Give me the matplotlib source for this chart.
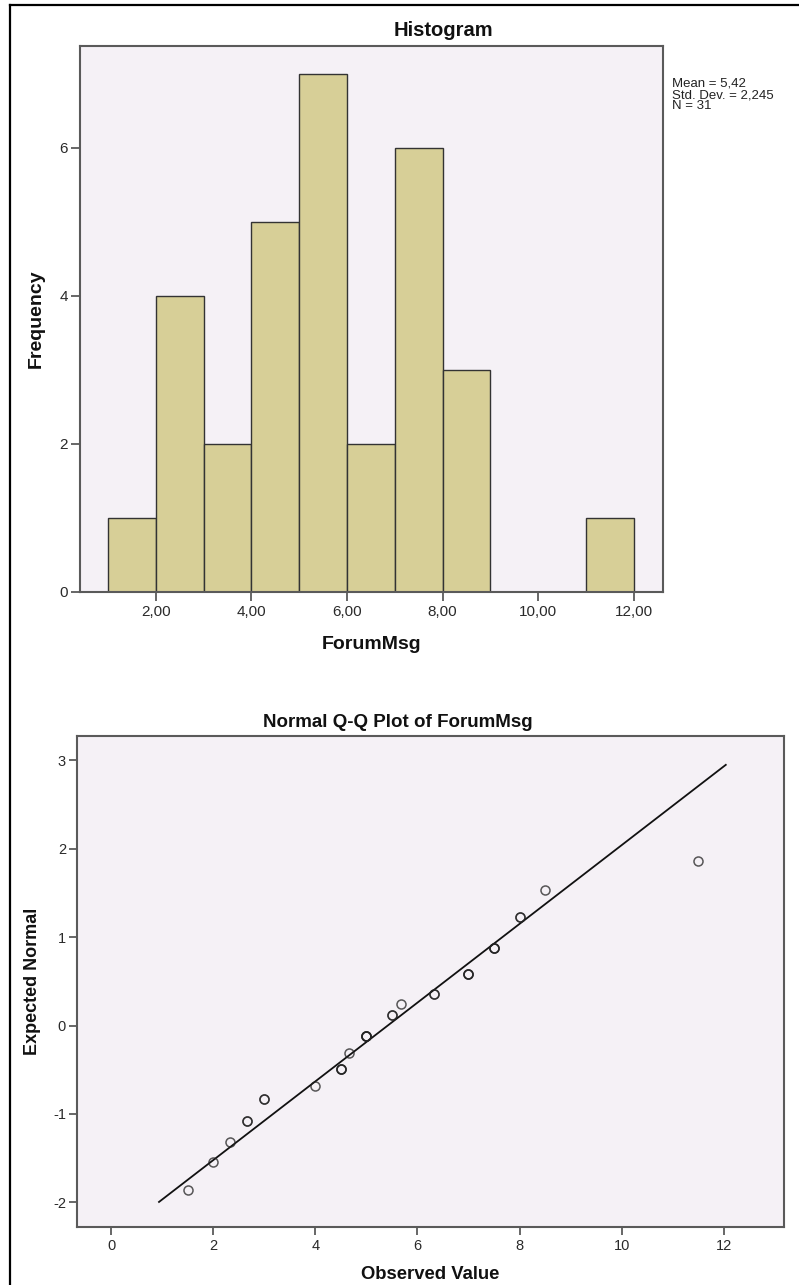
import matplotlib
matplotlib.use("Agg")
import matplotlib.pyplot as plt
from matplotlib.lines import Line2D
import numpy as np

plt.rcParams['font.family'] = ['Liberation Sans', 'DejaVu Sans']

# ---------------- data ----------------
bin_edges = [1, 2, 3, 4, 5, 6, 7, 8, 9, 10, 11, 12]
bin_counts = [1, 4, 2, 5, 7, 2, 6, 3, 0, 0, 1]
hist_xticks = [2, 4, 6, 8, 10, 12]
hist_xticklabels = ["2,00", "4,00", "6,00", "8,00", "10,00", "12,00"]
hist_yticks = [0, 2, 4, 6]
stats_lines = ["Mean = 5,42", "Std. Dev. = 2,245", "N = 31"]
mean_val = 5.42
sd_val = 2.245

qq_observed = [1.5, 2.0, 2.33, 2.67, 3.0, 4.0, 4.5, 4.67, 5.0, 5.5, 5.67,
               6.33, 7.0, 7.5, 8.0, 8.5, 11.5]
qq_expected = [-1.86, -1.54, -1.32, -1.08, -0.83, -0.68, -0.49, -0.31, -0.12,
               0.12, 0.24, 0.36, 0.58, 0.88, 1.23, 1.53, 1.86]
qq_ties = [1, 1, 1, 2, 2, 1, 3, 1, 4, 2, 1, 2, 3, 3, 2, 1, 1]
qq_line_x = [0.94, 12.04]
qq_xticks = [0, 2, 4, 6, 8, 10, 12]
qq_yticks = [-2, -1, 0, 1, 2, 3]

# ---------------- figure ----------------
W, H = 799, 1285
fig = plt.figure(figsize=(W / 100, H / 100), dpi=100)
fig.patch.set_facecolor("white")

def fx(px):
    return px / W

def fy(py):
    return 1 - py / H

bg = "#F5F1F6"
spine_c = "#5a5a5a"

# outer frame (left and top edges)
fig.add_artist(Line2D([fx(10), fx(10)], [fy(5), 0], transform=fig.transFigure,
                      color="black", lw=1.6))
fig.add_artist(Line2D([fx(10), 1], [fy(5), fy(5)], transform=fig.transFigure,
                      color="black", lw=1.6))

# ---------------- histogram ----------------
ax1 = fig.add_axes([fx(80), fy(592), fx(663) - fx(80), fy(46) - fy(592)])
ax1.set_facecolor(bg)
lefts = bin_edges[:-1]
widths = np.diff(bin_edges)
ax1.bar(lefts, bin_counts, width=widths, align="edge", color="#D7CF97",
        edgecolor="#333333", linewidth=1.0, zorder=2)
ax1.set_xlim(0.414, 12.61)
ax1.set_ylim(0, 7.378)
ax1.set_xticks(hist_xticks)
ax1.set_xticklabels(hist_xticklabels)
ax1.set_yticks(hist_yticks)
ax1.set_yticklabels([str(v) for v in hist_yticks])
for s in ax1.spines.values():
    s.set_color(spine_c)
    s.set_linewidth(1.5)
ax1.tick_params(axis="both", direction="out", length=6.5, width=1.3,
                color=spine_c, labelsize=11, labelcolor="#2a2a2a", pad=2)
ax1.tick_params(axis="x", pad=3)

fig.text(fx(443), fy(36), "Histogram", ha="center", va="baseline",
         fontsize=14.5, fontweight="bold", color="#111111")
fig.text(fx(36), fy(319), "Frequency", ha="center", va="center",
         rotation=90, fontsize=14, fontweight="bold", color="#111111")
fig.text(fx(372), fy(649), "ForumMsg", ha="center", va="baseline",
         fontsize=14, fontweight="bold", color="#111111")
for i, line in enumerate(stats_lines):
    fig.text(fx(672), fy(87 + 11 * i), line, ha="left", va="baseline",
             fontsize=9.5, color="#222222")

# ---------------- Q-Q plot ----------------
ax2 = fig.add_axes([fx(77), fy(1227), fx(784) - fx(77), fy(736) - fy(1227)])
ax2.set_facecolor(bg)
line_y = [(v - mean_val) / sd_val for v in qq_line_x]
ax2.plot(qq_line_x, line_y, color="#111111", lw=1.3, zorder=2)
for xv, yv, n in zip(qq_observed, qq_expected, qq_ties):
    for _ in range(n):
        ax2.plot([xv], [yv], marker="o", linestyle="none", markersize=6.5,
                 markerfacecolor="none", markeredgecolor="#222222",
                 markeredgewidth=1.1, alpha=0.75, zorder=3)
ax2.set_xlim(-0.666, 13.18)
ax2.set_ylim(-2.279, 3.275)
ax2.set_xticks(qq_xticks)
ax2.set_xticklabels([str(v) for v in qq_xticks])
ax2.set_yticks(qq_yticks)
ax2.set_yticklabels([str(v) for v in qq_yticks])
for s in ax2.spines.values():
    s.set_color(spine_c)
    s.set_linewidth(1.5)
ax2.tick_params(axis="both", direction="out", length=6, width=1.3,
                color=spine_c, labelsize=10.5, labelcolor="#2a2a2a", pad=2)
ax2.tick_params(axis="x", pad=3)

fig.text(fx(398), fy(727), "Normal Q-Q Plot of ForumMsg", ha="center",
         va="baseline", fontsize=13.5, fontweight="bold", color="#111111")
fig.text(fx(33), fy(981), "Expected Normal", ha="center", va="center",
         rotation=90, fontsize=13, fontweight="bold", color="#111111")
fig.text(fx(430), fy(1279), "Observed Value", ha="center", va="baseline",
         fontsize=13.3, fontweight="bold", color="#111111")

fig.savefig("out.png", dpi=100)
